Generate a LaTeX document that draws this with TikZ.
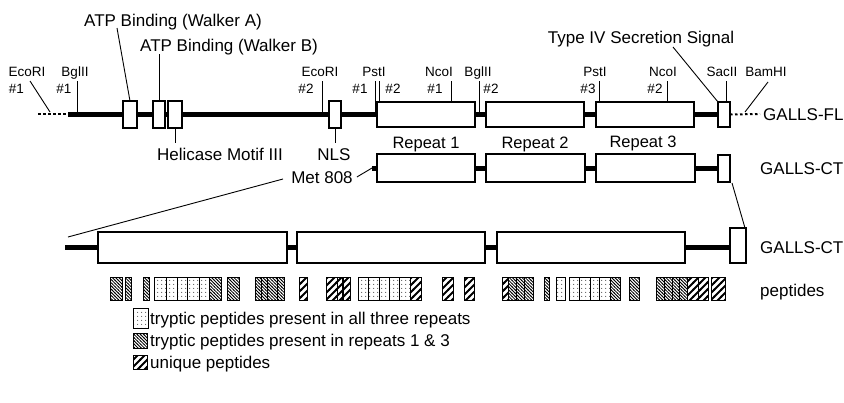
\documentclass[tikz,border=0pt]{standalone}
\usepackage{fontspec}
\setmainfont{Liberation Sans}
\usetikzlibrary{patterns}
\pgfdeclarepatternformonly{pdots}{\pgfpoint{0pt}{0pt}}{\pgfpoint{4pt}{4pt}}{\pgfpoint{4pt}{4pt}}{\pgfpathcircle{\pgfpoint{2pt}{2pt}}{0.55pt}\pgfusepath{fill}}
\pgfdeclarepatternformonly{phatch}{\pgfpoint{-0.5pt}{-0.5pt}}{\pgfpoint{3.7pt}{3.7pt}}{\pgfpoint{3.2pt}{3.2pt}}{\pgfsetlinewidth{0.8pt}\pgfpathmoveto{\pgfpoint{-0.5pt}{3.7pt}}\pgfpathlineto{\pgfpoint{3.7pt}{-0.5pt}}\pgfusepath{stroke}}
\pgfdeclarepatternformonly{puniq}{\pgfpoint{-1pt}{-1pt}}{\pgfpoint{8pt}{8pt}}{\pgfpoint{7pt}{7pt}}{\pgfsetlinewidth{2pt}\pgfpathmoveto{\pgfpoint{-1pt}{-1pt}}\pgfpathlineto{\pgfpoint{8pt}{8pt}}\pgfusepath{stroke}}
\newcommand\gb[5]{\node[gbox, minimum width={(#4-#2)*1pt}, minimum height={(#5-#3)*1pt}] (#1) at ({(#2+#4)/2},{(#3+#5)/2}) {};}
\newcommand\pep[3]{\draw[pepbox, pattern=#3] (#1,277) rectangle (#2,300);}
\begin{document}
\begin{tikzpicture}[x=1pt,y=-1pt,
  gbox/.style={draw, line width=1.2pt, fill=white, inner sep=0pt, outer sep=0pt},
  bb/.style={line width=5pt},
  dotl/.style={line width=2pt, dash pattern=on 2.5pt off 2.5pt},
  lead/.style={line width=0.9pt},
  big/.style={font=\fontsize{17}{19}\selectfont, inner sep=0pt, text height=12.2pt, text depth=0pt},
  rep/.style={font=\fontsize{16.5}{18}\selectfont, inner sep=0pt, text height=11.8pt, text depth=0pt},
  small/.style={font=\fontsize{13.5}{15}\selectfont, inner sep=0pt, text height=9.7pt, text depth=0pt},
  pepbox/.style={line width=0.9pt}]
\useasboundingbox (0,0) rectangle (844,402);
\fill[white] (0,0) rectangle (844,402);

% ---------- Row 1: GALLS-FL ----------
\coordinate (fl0) at (38,114);
\coordinate (fl1) at (68,114);
\coordinate (fl2) at (724,114);
\coordinate (fl3) at (760,114);
\draw[dotl] (fl0) -- (fl1);
\draw[bb] (fl1) -- (fl2);
\gb{bA}{123}{101}{137}{128}
\gb{bB}{153}{101}{165}{128}
\gb{bC}{168}{101}{182}{128}
\gb{bN}{329}{101}{341}{128}
\gb{bR1}{377}{102}{475}{127}
\gb{bR2}{486}{102}{584}{127}
\gb{bR3}{596}{102}{694}{127}
\gb{bE}{718}{102}{730}{127}
\draw[dotl] (bE.east) -- (fl3);
\node[big, anchor=west] (fl) at (763,114) {GALLS-FL};

% domain labels
\node[big] (wa) at (173,20) {ATP Binding (Walker A)};
\node[big] (wb) at (229,45) {ATP Binding (Walker B)};
\node[big] (hm) at (220,154) {Helicase Motif III};
\node[big] (nls) at (334,154) {NLS};
\node[big] (t4) at (641,37) {Type IV Secretion Signal};
\coordinate (waE) at (117,28);
\coordinate (wbE) at (159,54);
\coordinate (hmE) at (175,143);
\coordinate (nlsE) at (335,143);
\coordinate (t4E) at (673,47);
\draw[lead] (bA.north) -- (waE);
\draw[lead] (bB.north -| wbE) -- (wbE);
\draw[lead] (bC.south -| hmE) -- (hmE);
\draw[lead] (bN.south -| nlsE) -- (nlsE);
\draw[lead] (t4E) -- (bE.north west);

% restriction sites
\node[small] (eco1) at (27,72) {EcoRI};
\node[small] (eco1n) at (16.5,89) {\#1};
\node[small] (bgl1) at (75,72) {BglII};
\node[small] (bgl1n) at (64,89) {\#1};
\node[small] (eco2) at (320,72) {EcoRI};
\node[small] (eco2n) at (306,89) {\#2};
\node[small] (pst) at (374,72) {PstI};
\node[small] (pst1n) at (360,89) {\#1};
\node[small] (pst2n) at (393,89) {\#2};
\node[small] (nco1) at (439,72) {NcoI};
\node[small] (nco1n) at (435,89) {\#1};
\node[small] (bgl2) at (478,72) {BglII};
\node[small] (bgl2n) at (491,89) {\#2};
\node[small] (pst3) at (595,72) {PstI};
\node[small] (pst3n) at (588,89) {\#3};
\node[small] (nco2) at (663,72) {NcoI};
\node[small] (nco2n) at (655,89) {\#2};
\node[small] (sac) at (722,72) {SacII};
\node[small] (bam) at (766,72) {BamHI};

\coordinate (e1t) at (30,81);   \coordinate (e1b) at (50,112);
\coordinate (g1t) at (77,81);   \coordinate (g1b) at (77,112);
\coordinate (e2t) at (322,81);  \coordinate (e2b) at (322,112);
\coordinate (p1t) at (375,81);  \coordinate (p1b) at (375,112);
\coordinate (p2t) at (379,81);
\coordinate (n1t) at (451,81);
\coordinate (g2t) at (479,81);  \coordinate (g2b) at (479,112);
\coordinate (p3t) at (599,81);
\coordinate (n2t) at (667,81);
\coordinate (sct) at (726,81);
\coordinate (bmt) at (768,82);  \coordinate (bmb) at (745,112);
\draw[lead] (e1t) -- (e1b);
\draw[lead] (g1t) -- (g1b);
\draw[lead] (e2t) -- (e2b);
\draw[lead] (p1t) -- (p1b);
\draw[lead] (p2t) -- (p2t |- bR1.north);
\draw[lead] (n1t) -- (n1t |- bR1.north);
\draw[lead] (g2t) -- (g2b);
\draw[lead] (p3t) -- (p3t |- bR3.north);
\draw[lead] (n2t) -- (n2t |- bR3.north);
\draw[lead] (sct) -- (sct |- bE.north);
\draw[lead] (bmt) -- (bmb);

% ---------- Row 2: GALLS-CT ----------
\coordinate (ct1) at (372,168);
\coordinate (ct2) at (724,168);
\draw[bb] (ct1) -- (ct2);
\gb{cR1}{377}{154}{475}{182}
\gb{cR2}{486}{154}{585}{182}
\gb{cR3}{596}{154}{695}{182}
\gb{cE}{718}{155}{730}{182}
\node[rep] (r1) at (426,143) {Repeat 1};
\node[rep] (r2) at (535,143) {Repeat 2};
\node[rep] (r3) at (643,142) {Repeat 3};
\node[big] (met) at (322,177) {Met 808};
\draw[lead] (met.east) ++(4,0) coordinate (metE) -- (ct1);
\node[big, anchor=west] (ct) at (760,168) {GALLS-CT};

% ---------- Row 3: expanded GALLS-CT ----------
\coordinate (x0) at (65,247);
\coordinate (x1) at (735,247);
\draw[bb] (x0) -- (x1);
\gb{xR1}{98}{232}{287}{263}
\gb{xR2}{297}{232}{485}{263}
\gb{xR3}{497}{232}{685}{263}
\gb{xE}{730}{228}{746}{263}
\node[big, anchor=west] (ct3) at (760,247) {GALLS-CT};
\coordinate (exL) at (68,237);
\coordinate (exLt) at (283,179);
\draw[lead] (exL) -- (exLt);
\draw[lead] (cE.south east) ++(2,1) coordinate (exRt) -- (xE.north -| 745,0);

% ---------- Peptides ----------
\pep{110}{122.5}{phatch}
\pep{125}{131}{phatch}
\pep{143}{149}{phatch}
\pep{154}{166}{pdots}
\pep{166}{177}{pdots}
\pep{177}{187}{pdots}
\pep{187}{199}{pdots}
\pep{199}{209}{pdots}
\pep{209}{221}{phatch}
\pep{227}{239}{phatch}
\pep{255}{261}{phatch}
\pep{261}{267}{phatch}
\pep{267}{277}{phatch}
\pep{277}{284}{phatch}
\pep{299}{307}{puniq}
\pep{326}{337}{puniq}
\pep{337}{342}{puniq}
\pep{343}{350}{puniq}
\pep{358}{368}{pdots}
\pep{368}{379}{pdots}
\pep{379}{389}{pdots}
\pep{389}{399}{pdots}
\pep{399}{410}{pdots}
\pep{410}{421}{puniq}
\pep{442}{453}{puniq}
\pep{464}{474}{puniq}
\pep{502}{508}{puniq}
\pep{508}{516}{phatch}
\pep{516}{524}{phatch}
\pep{524}{533}{phatch}
\pep{544}{549}{phatch}
\pep{556}{565}{pdots}
\pep{569}{579}{pdots}
\pep{579}{590}{pdots}
\pep{590}{599}{pdots}
\pep{599}{610}{pdots}
\pep{610}{620}{phatch}
\pep{629}{639}{phatch}
\pep{656}{664}{phatch}
\pep{664}{672}{phatch}
\pep{672}{679}{phatch}
\pep{679}{687}{phatch}
\pep{687}{698}{puniq}
\pep{698}{708}{puniq}
\pep{711}{725}{puniq}
\node[big, anchor=west] (pep) at (760,290) {peptides};

% ---------- Legend ----------
\draw[pepbox, pattern=pdots] (133,308) rectangle (148,328);
\draw[pepbox, pattern=phatch] (133,333) rectangle (147,348);
\draw[pepbox, pattern=puniq] (133,355) rectangle (147,369);
\node[big, anchor=west] (lg1) at (150,318) {tryptic peptides present in all three repeats};
\node[big, anchor=west] (lg2) at (150,340) {tryptic peptides present in repeats 1 \& 3};
\node[big, anchor=west] (lg3) at (150,362) {unique peptides};
\end{tikzpicture}
\end{document}
